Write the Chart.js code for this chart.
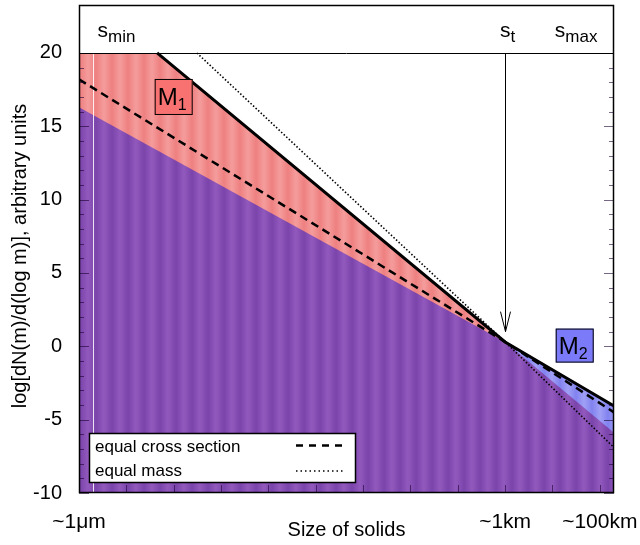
<!DOCTYPE html>
<html>
<head>
<meta charset="utf-8">
<script src="https://cdn.jsdelivr.net/npm/chart.js@4.4.1/dist/chart.umd.min.js"></script>
<style>
  body { margin: 0; background: #fff; }
</style>
</head>
<body>
<canvas id="grafik" width="640" height="545"></canvas>
<script>
// x = log10(size / 1 m), y = log[dN(m)/d(log m)]
const xTicks = [-6, -5, -4, -3, -2, -1, 0, 1, 2, 3, 4, 5];
const xTickLabels = { "-6": "~1μm", "3": "~1km", "5": "~100km" };
const yTicks = [-10, -5, 0, 5, 10, 15, 20];

// total distribution (thick solid line)
const solidX = [-4.35, 3, 5.3];
const solidY = [20, 0.3, -4.06];
// equal cross section
const dashedX = [-6, 3, 5.3];
const dashedY = [18.2, 0.3, -4.5];
// equal mass
const dottedX = [-3.51, 3, 5.3];
const dottedY = [20, 0.3, -6.9];
// purple area upper edge
const purpleX = [-6, 3, 5.3];
const purpleY = [16.3, 0.3, -5.9];
// M1 (red) area upper edge
const redX = [-6, -4.35, 3];
const redY = [20, 20, 0.3];
// M2 (blue) area upper edge
const blueX = [3, 5.3];
const blueY = [0.3, -4.06];

const sMin = -5.7, sT = 3;

function pts(xs, ys) {
    return xs.map((x, i) => ({ x: x, y: ys[i] }));
}

let ctx = document.getElementById("grafik").getContext("2d");

// vertical stripe fill like the original shading
function garis(c1, c2) {
    const off = document.createElement("canvas");
    off.width = 16;
    off.height = 4;
    const g = off.getContext("2d");
    const gr = g.createLinearGradient(0, 0, 16, 0);
    gr.addColorStop(0, c1);
    gr.addColorStop(0.5, c2);
    gr.addColorStop(1, c1);
    g.fillStyle = gr;
    g.fillRect(0, 0, 16, 4);
    return ctx.createPattern(off, "repeat");
}

const FONT = "'Liberation Sans', Arial, sans-serif";

function label(c, x, y, main, sub, size, subSize) {
    c.font = size + "px " + FONT;
    c.textBaseline = "alphabetic";
    c.textAlign = "left";
    c.fillText(main, x, y);
    const w = c.measureText(main).width;
    c.font = subSize + "px " + FONT;
    c.fillText(sub, x + w, y + 5);
}

function kotak(c, cx, cy, w, h, fill, main, sub) {
    c.fillStyle = fill;
    c.fillRect(cx - w / 2, cy - h / 2, w, h);
    c.strokeStyle = "#000";
    c.lineWidth = 1;
    c.strokeRect(cx - w / 2 + 0.5, cy - h / 2 + 0.5, w - 1, h - 1);
    c.fillStyle = "#000";
    label(c, cx - w / 2 + 3, cy + 8, main, sub, 24, 16);
}

const hiasan = {
    id: "hiasan",
    afterDatasetDraw(chart, args) {
        // white line at s_min, drawn under the curves
        if (args.index !== 3) return;
        const { ctx: c, chartArea: a, scales: { x, y } } = chart;
        const px = Math.round(x.getPixelForValue(sMin)) + 0.5;
        c.save();
        c.strokeStyle = "rgba(255,255,255,0.85)";
        c.lineWidth = 1;
        c.beginPath();
        c.moveTo(px, y.getPixelForValue(20));
        c.lineTo(px, a.bottom);
        c.stroke();
        c.restore();
    },
    afterDatasetsDraw(chart) {
        const { ctx: c, chartArea: a, scales: { x, y } } = chart;
        c.save();
        const line = (x1, y1, x2, y2) => {
            c.beginPath();
            c.moveTo(x1, y1);
            c.lineTo(x2, y2);
            c.stroke();
        };

        // inner tick marks
        c.lineWidth = 1;
        c.strokeStyle = "rgba(25,0,50,0.6)";
        for (let v = -10; v <= 20; v++) {
            const py = Math.round(y.getPixelForValue(v)) + 0.5;
            const len = v % 5 === 0 ? 10 : 5;
            line(a.left, py, a.left + len, py);
            line(a.right, py, a.right - len, py);
        }
        xTicks.forEach(v => {
            if (v === -6) return;
            const px = Math.round(x.getPixelForValue(v)) + 0.5;
            line(px, a.bottom, px, a.bottom - 8);
        });

        // frame and the y = 20 line
        c.strokeStyle = "#000";
        c.lineWidth = 1.5;
        c.strokeRect(a.left + 0.5, a.top + 0.5, a.width - 1, a.height - 1);
        const y20 = Math.round(y.getPixelForValue(20)) + 0.5;
        c.lineWidth = 1;
        line(a.left, y20, a.right, y20);

        // arrow at s_t
        const ax = Math.round(x.getPixelForValue(sT)) + 0.5;
        const tip = y.getPixelForValue(1.0);
        line(ax, y20, ax, tip);
        c.beginPath();
        c.moveTo(ax - 5, tip - 20);
        c.lineTo(ax, tip);
        c.lineTo(ax + 5, tip - 20);
        c.stroke();

        // s labels in the top band
        c.fillStyle = "#000";
        const ly = y.getPixelForValue(21.1);
        label(c, x.getPixelForValue(-5.61), ly, "s", "min", 21, 17);
        label(c, x.getPixelForValue(2.89), ly, "s", "t", 21, 17);
        label(c, x.getPixelForValue(4.05), ly, "s", "max", 21, 17);

        // M1 / M2 boxes
        kotak(c, x.getPixelForValue(-4.0), y.getPixelForValue(17.0), 38, 36, "#f87272", "M", "1");
        kotak(c, x.getPixelForValue(4.47), y.getPixelForValue(0.05), 38, 34, "#7b7bfa", "M", "2");

        // legend box
        const lx = a.left + 10, lt = a.bottom - 60;
        c.fillStyle = "#fff";
        c.fillRect(lx, lt, 267, 50);
        c.strokeStyle = "#000";
        c.lineWidth = 1.5;
        c.strokeRect(lx + 0.5, lt + 0.5, 266, 49);
        c.fillStyle = "#000";
        c.font = "17px " + FONT;
        c.textBaseline = "middle";
        c.textAlign = "left";
        c.fillText("equal cross section", lx + 6, lt + 14);
        c.fillText("equal mass", lx + 6, lt + 38);
        c.lineWidth = 2.5;
        c.setLineDash([7, 6]);
        line(lx + 207, lt + 12.5, lx + 256, lt + 12.5);
        c.lineWidth = 1.5;
        c.setLineDash([1.5, 3]);
        line(lx + 207, lt + 38, lx + 256, lt + 38);
        c.setLineDash([]);

        // axis titles
        c.font = "20px " + FONT;
        c.textAlign = "center";
        c.textBaseline = "alphabetic";
        c.fillText("Size of solids", (a.left + a.right) / 2, 536);
        c.translate(26, 256);
        c.rotate(-Math.PI / 2);
        c.fillText("log[dN(m)/d(log m)], arbitrary units", 0, 0);
        c.restore();
    }
};

const tanpaGaris = "rgba(0,0,0,0)";

window.myChart = new Chart(ctx, {
    type: "line",
    data: {
        datasets: [
            {
                label: "total",
                data: pts(solidX, solidY),
                borderColor: "#000",
                borderWidth: 3,
                pointRadius: 0,
                fill: false,
                order: 0
            },
            {
                label: "equal cross section",
                data: pts(dashedX, dashedY),
                borderColor: "#000",
                borderWidth: 2.5,
                borderDash: [8, 5],
                pointRadius: 0,
                fill: false,
                order: 0
            },
            {
                label: "equal mass",
                data: pts(dottedX, dottedY),
                borderColor: "#000",
                borderWidth: 1.6,
                borderDash: [1.5, 2],
                pointRadius: 0,
                fill: false,
                order: 0
            },
            {
                label: "purple",
                data: pts(purpleX, purpleY),
                borderColor: tanpaGaris,
                borderWidth: 0,
                backgroundColor: garis("#7a44ab", "#9259bd"),
                pointRadius: 0,
                fill: "start",
                order: 1
            },
            {
                label: "M1",
                data: pts(redX, redY),
                borderColor: tanpaGaris,
                borderWidth: 0,
                backgroundColor: garis("#ee8080", "#f59c9c"),
                pointRadius: 0,
                fill: "start",
                order: 2
            },
            {
                label: "M2",
                data: pts(blueX, blueY),
                borderColor: tanpaGaris,
                borderWidth: 0,
                backgroundColor: garis("#8282f0", "#a0a0f6"),
                pointRadius: 0,
                fill: "start",
                order: 2
            }
        ]
    },
    options: {
        responsive: false,
        animation: false,
        layout: { padding: { top: 5, right: 26, left: 0, bottom: 0 } },
        plugins: {
            legend: { display: false },
            tooltip: { enabled: false }
        },
        scales: {
            x: {
                type: "linear",
                min: -6,
                max: 5.3,
                afterFit: s => {
                    s.height = 52;
                    s.paddingLeft = 0;
                    s.paddingRight = 0;
                },
                afterBuildTicks: s => { s.ticks = xTicks.map(v => ({ value: v })); },
                grid: { display: false },
                border: { display: false },
                ticks: {
                    autoSkip: false,
                    maxRotation: 0,
                    minRotation: 0,
                    padding: 9,
                    color: "#000",
                    font: { family: FONT, size: 21 },
                    callback: v => xTickLabels[v] || ""
                }
            },
            y: {
                type: "linear",
                min: -10,
                max: 23.27,
                afterFit: s => {
                    s.width = 79;
                    s.paddingTop = 0;
                    s.paddingBottom = 0;
                },
                afterBuildTicks: s => { s.ticks = yTicks.map(v => ({ value: v })); },
                grid: { display: false },
                border: { display: false },
                ticks: {
                    padding: 9,
                    color: "#000",
                    font: { family: FONT, size: 20 }
                }
            }
        }
    },
    plugins: [hiasan]
});
</script>
</body>
</html>
